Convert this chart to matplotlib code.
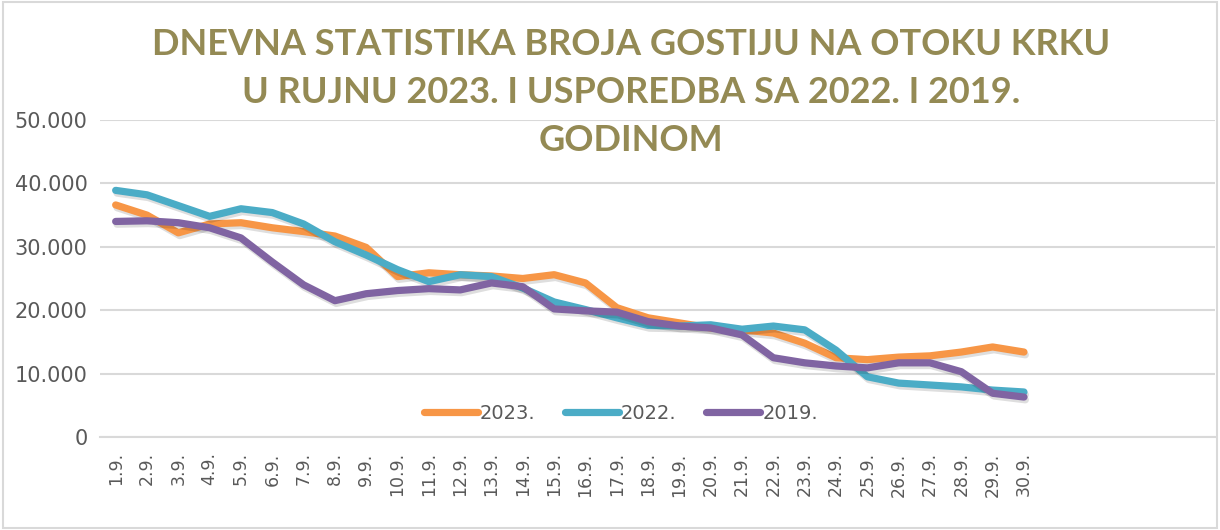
import matplotlib
matplotlib.use("Agg")
import matplotlib.pyplot as plt
import matplotlib.patheffects as pe
from matplotlib.patches import Rectangle

days = [f"{d}.9." for d in range(1, 31)]

guests_2023 = [36600, 35000, 32200, 33600, 33800, 33000, 32400, 31700, 29900, 25300,
               25900, 25600, 25400, 25000, 25600, 24300, 20400, 18800, 18000, 17200,
               16900, 16400, 14800, 12500, 12200, 12600, 12800, 13400, 14200, 13400]
guests_2022 = [38900, 38200, 36500, 34800, 36000, 35400, 33600, 30800, 28700, 26400,
               24500, 25600, 25300, 23500, 21300, 20100, 18800, 17600, 17500, 17700,
               17000, 17500, 16900, 13700, 9500, 8500, 8200, 7900, 7400, 7100]
guests_2019 = [34000, 34100, 33800, 33000, 31400, 27600, 24000, 21500, 22600, 23100,
               23400, 23200, 24300, 23700, 20200, 19900, 19700, 18200, 17500, 17200,
               16100, 12500, 11700, 11200, 10900, 11700, 11700, 10300, 6900, 6300]

series = [("2023.", guests_2023, "#F79646"),
          ("2022.", guests_2022, "#4BACC6"),
          ("2019.", guests_2019, "#8064A2")]

fig = plt.figure(figsize=(12.2, 5.3), dpi=100)
ax = fig.add_axes([100 / 1220, 1 - 437 / 530, 1115 / 1220, 317 / 530])

x = list(range(len(days)))
shadow = [pe.SimpleLineShadow(offset=(1, -2), shadow_color="black", alpha=0.13),
          pe.Normal()]
for name, vals, color in series:
    ax.plot(x, vals, color=color, lw=5.2, label=name, solid_capstyle="round",
            solid_joinstyle="round", path_effects=shadow)

ax.set_ylim(0, 50000)
ax.set_xlim(-0.5, 35.1)
ax.set_yticks(range(0, 50001, 10000))
ax.set_yticklabels([f"{v:,}".replace(",", ".") for v in range(0, 50001, 10000)])
ax.set_xticks(x)
ax.set_xticklabels(days, rotation=90)
ax.tick_params(axis="both", length=0, colors="#595959")
ax.tick_params(axis="y", pad=9, labelsize=15)
ax.tick_params(axis="x", pad=11, labelsize=12.5)
ax.grid(axis="y", color="#D9D9D9", lw=1.5)
ax.set_axisbelow(True)
for s in ["left", "right", "top"]:
    ax.spines[s].set_visible(False)
ax.spines["bottom"].set_color("#D9D9D9")
ax.spines["bottom"].set_linewidth(1.5)

leg = ax.legend(loc="lower center", bbox_to_anchor=(0.467, -0.01), ncol=3, frameon=False,
                fontsize=14, handlelength=2.8, handletextpad=0.1, columnspacing=1.5)
for t in leg.get_texts():
    t.set_color("#595959")
for h in leg.legend_handles:
    h.set_path_effects([pe.Normal()])

fig.text(0.517, 0.826, "DNEVNA STATISTIKA BROJA GOSTIJU NA OTOKU KRKU\n"
         "U RUJNU 2023. I USPOREDBA SA 2022. I 2019.\nGODINOM",
         ha="center", va="center", fontsize=26, fontweight="bold", color="#948A54",
         family="Lato", linespacing=1.55)

fig.patches.append(Rectangle((3 / 1220, 2 / 530), 1214 / 1220, 526 / 530,
                             transform=fig.transFigure, fill=False,
                             edgecolor="#D9D9D9", lw=1.5))

fig.savefig("out.png", dpi=100)
